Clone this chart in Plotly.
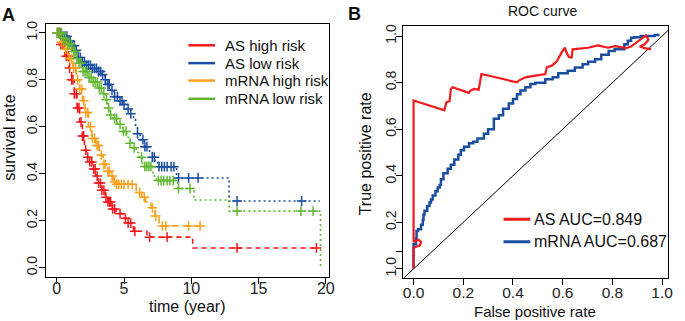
import plotly.graph_objects as go
import numpy as np

# ---------------- Kaplan-Meier data (panel A) ----------------
as_high_t = [0, 0.3, 0.6, 0.9, 1.1, 1.3, 1.5, 1.7, 1.9, 2.05, 2.2, 2.45, 2.7, 2.9, 3.1, 3.35, 3.6, 3.8, 4.1, 4.4, 4.9, 5.3, 5.7, 6.7, 10.1, 19.3]
as_high_s = [1.0, 0.95, 0.90, 0.85, 0.80, 0.74, 0.68, 0.62, 0.56, 0.50, 0.47, 0.45, 0.42, 0.39, 0.36, 0.33, 0.30, 0.28, 0.25, 0.23, 0.21, 0.19, 0.155, 0.13, 0.084, 0.084]
as_high_cens = [0.05, 0.15, 0.3, 0.45, 0.55, 0.7, 0.85, 0.95, 1.1, 1.2, 1.3, 1.45, 1.55, 1.65, 1.8, 1.9, 2.0, 2.15, 2.3, 2.45, 2.6, 2.75, 2.85, 3.0, 3.1, 3.25, 3.35, 3.5, 3.65, 3.8, 3.9, 4.0, 4.15, 4.3, 4.7, 5.1, 5.3, 5.5, 5.8, 6.9, 8.2, 13.4, 19.3]

as_low_t = [0, 0.4, 0.8, 1.1, 1.35, 1.6, 1.85, 2.2, 2.6, 3.0, 3.35, 3.55, 3.75, 4.0, 4.25, 4.6, 4.9, 5.2, 5.5, 5.7, 5.85, 6.0, 6.2, 6.5, 6.9, 7.1, 7.3, 7.5, 8.9, 12.8, 19.55]
as_low_s = [1.0, 0.985, 0.965, 0.945, 0.925, 0.895, 0.875, 0.862, 0.848, 0.835, 0.822, 0.80, 0.78, 0.755, 0.728, 0.71, 0.695, 0.675, 0.655, 0.63, 0.60, 0.57, 0.545, 0.515, 0.49, 0.47, 0.45, 0.43, 0.382, 0.284, 0.284]
as_low_cens = [0.05, 0.25, 0.45, 0.6, 0.75, 0.9, 1.0, 1.15, 1.3, 1.45, 1.6, 1.75, 1.9, 2.05, 2.2, 2.35, 2.5, 2.65, 2.8, 2.95, 3.1, 3.25, 3.4, 3.6, 3.8, 3.9, 4.1, 4.3, 4.5, 4.7, 4.85, 5.0, 5.3, 5.5, 6.0, 6.4, 6.55, 6.7, 7.1, 7.25, 7.6, 7.8, 8.0, 8.2, 8.5, 8.7, 9.05, 9.8, 10.5, 13.4, 18.2]

mrna_high_t = [0, 0.3, 0.6, 0.9, 1.2, 1.45, 1.7, 1.9, 2.1, 2.35, 2.6, 2.9, 3.15, 3.45, 3.7, 3.95, 4.2, 4.35, 5.9, 6.3, 6.6, 7.0, 7.3, 7.6, 10.65]
mrna_high_s = [1.0, 0.96, 0.93, 0.89, 0.85, 0.80, 0.76, 0.71, 0.66, 0.60, 0.55, 0.52, 0.48, 0.44, 0.41, 0.39, 0.365, 0.355, 0.32, 0.30, 0.28, 0.255, 0.22, 0.178, 0.178]
mrna_high_cens = [0.05, 0.2, 0.35, 0.5, 0.65, 0.8, 0.95, 1.1, 1.25, 1.4, 1.55, 1.7, 1.85, 2.0, 2.15, 2.3, 2.5, 2.65, 2.8, 3.0, 3.1, 3.3, 3.5, 3.6, 3.8, 3.9, 4.1, 4.3, 4.45, 4.6, 4.8, 5.0, 5.3, 5.6, 6.15, 6.5, 7.1, 7.35, 7.85, 8.1, 9.8, 10.65]

mrna_low_t = [0, 0.4, 0.8, 1.2, 1.45, 1.6, 1.9, 2.3, 2.7, 3.1, 3.45, 3.65, 3.75, 3.95, 4.15, 4.5, 4.9, 5.2, 5.45, 5.65, 5.9, 6.1, 6.35, 6.5, 7.15, 7.4, 9.0, 10.2, 12.8, 19.6]
mrna_low_s = [1.0, 0.975, 0.95, 0.92, 0.89, 0.87, 0.835, 0.81, 0.79, 0.765, 0.74, 0.715, 0.68, 0.65, 0.635, 0.61, 0.58, 0.555, 0.53, 0.51, 0.49, 0.47, 0.445, 0.431, 0.39, 0.371, 0.337, 0.288, 0.241, 0.0]
mrna_low_cens = [0.05, 0.2, 0.35, 0.5, 0.65, 0.8, 0.95, 1.1, 1.25, 1.35, 1.5, 1.65, 1.8, 1.95, 2.1, 2.25, 2.4, 2.55, 2.7, 2.85, 3.0, 3.15, 3.3, 3.5, 3.7, 3.85, 4.0, 4.3, 4.45, 4.7, 4.95, 5.15, 5.45, 5.75, 6.3, 6.55, 6.7, 6.85, 7.0, 7.55, 7.75, 7.95, 8.2, 8.4, 8.65, 9.05, 9.9, 13.4, 18.15, 19.05]

km_names = ["AS high risk", "AS low risk", "mRNA high risk", "mRNA low risk"]
km_colors = ["#F21A1D", "#1B4EA0", "#F8A11E", "#62B833"]
km_dash = ["5px,4px", "2px,3px", "7px,4px", "2px,3px"]
km_x_ticks = [0, 5, 10, 15, 20]
km_y_ticks = [0.0, 0.2, 0.4, 0.6, 0.8, 1.0]

# ---------------- ROC data (panel B) ----------------
as_fpr = [0, 0, 0.01, 0.025, 0.03, 0.02, 0.005, 0, 0, 0.124, 0.128, 0.132, 0.145, 0.15, 0.157, 0.223, 0.228, 0.243, 0.262, 0.266, 0.27, 0.273, 0.33, 0.416, 0.425, 0.45, 0.49, 0.53, 0.536, 0.556, 0.575, 0.585, 0.596, 0.609, 0.615, 0.625, 0.636, 0.64, 0.66, 0.702, 0.742, 0.782, 0.81, 0.855, 0.875, 0.895, 0.915, 0.935, 0.945, 0.93, 0.91, 0.93, 0.955]
as_tpr = [0, 0.09, 0.095, 0.10, 0.115, 0.125, 0.12, 0.115, 0.723, 0.681, 0.70, 0.716, 0.72, 0.773, 0.78, 0.756, 0.765, 0.773, 0.77, 0.79, 0.81, 0.837, 0.823, 0.801, 0.81, 0.823, 0.83, 0.837, 0.866, 0.873, 0.89, 0.91, 0.93, 0.95, 0.93, 0.91, 0.908, 0.943, 0.946, 0.95, 0.96, 0.95, 0.957, 0.948, 0.955, 0.971, 0.985, 1.003, 0.985, 0.965, 0.955, 0.948, 0.943]

mrna_fpr = [0, 0, 0.01, 0.012, 0.018, 0.03, 0.037, 0.04, 0.044, 0.055, 0.064, 0.07, 0.077, 0.088, 0.097, 0.105, 0.11, 0.12, 0.137, 0.15, 0.164, 0.18, 0.19, 0.203, 0.223, 0.24, 0.257, 0.283, 0.3, 0.323, 0.343, 0.36, 0.383, 0.4, 0.416, 0.43, 0.45, 0.47, 0.49, 0.53, 0.56, 0.582, 0.62, 0.649, 0.68, 0.702, 0.73, 0.755, 0.785, 0.809, 0.848, 0.862, 0.875, 0.888, 0.915, 0.941, 0.97, 0.99]
mrna_tpr = [0, 0.1, 0.106, 0.13, 0.163, 0.17, 0.19, 0.21, 0.234, 0.25, 0.27, 0.285, 0.298, 0.315, 0.333, 0.35, 0.36, 0.385, 0.411, 0.43, 0.447, 0.47, 0.49, 0.51, 0.525, 0.54, 0.546, 0.56, 0.58, 0.60, 0.645, 0.66, 0.688, 0.71, 0.73, 0.75, 0.766, 0.78, 0.794, 0.80, 0.815, 0.823, 0.84, 0.851, 0.865, 0.879, 0.89, 0.90, 0.92, 0.936, 0.943, 0.965, 0.98, 0.993, 0.995, 1.0, 1.0, 1.005]

roc_names = ["AS AUC=0.849", "mRNA AUC=0.687"]
roc_colors = ["#F21A1D", "#1B4EA0"]
roc_x_ticks = [0.0, 0.2, 0.4, 0.6, 0.8, 1.0]
roc_y_tickvals = [0.0, 0.075, 0.2, 0.4, 0.6, 0.8, 1.0]
roc_y_ticktext = ["1.0", "", "0.2", "0.4", "0.6", "0.8", "1.0"]

FONT = "Liberation Sans, Arial, sans-serif"
W, H = 685, 321

def step_val(ts, ss, t):
    idx = int(np.searchsorted(np.array(ts), t, side="right")) - 1
    return ss[max(idx, 0)]

fig = go.Figure()

km_sets = [
    (as_high_t, as_high_s, as_high_cens),
    (as_low_t, as_low_s, as_low_cens),
    (mrna_high_t, mrna_high_s, mrna_high_cens),
    (mrna_low_t, mrna_low_s, mrna_low_cens),
]
for (ts, ss, cs), name, col, dash in zip(km_sets, km_names, km_colors, km_dash):
    fig.add_trace(go.Scatter(x=ts, y=ss, mode="lines", line=dict(color=col, width=1.6, dash=dash, shape="hv"),
                             xaxis="x", yaxis="y", showlegend=False, name=name))
    fig.add_trace(go.Scatter(x=cs, y=[step_val(ts, ss, c) for c in cs], mode="markers",
                             marker=dict(symbol="cross-thin", size=7, line=dict(color=col, width=1.5)),
                             xaxis="x", yaxis="y", showlegend=False, hoverinfo="skip"))

# ROC
fig.add_trace(go.Scatter(x=[-0.2, 1.2], y=[-0.2, 1.2], mode="lines", line=dict(color="black", width=1),
                         xaxis="x2", yaxis="y2", showlegend=False))
fig.add_trace(go.Scatter(x=mrna_fpr, y=mrna_tpr, mode="lines", line=dict(color=roc_colors[1], width=2.5, shape="vh"),
                         xaxis="x2", yaxis="y2", showlegend=False, name=roc_names[1]))
fig.add_trace(go.Scatter(x=as_fpr, y=as_tpr, mode="lines", line=dict(color=roc_colors[0], width=2.2),
                         xaxis="x2", yaxis="y2", showlegend=False, name=roc_names[0]))

axis_common = dict(showline=True, linecolor="black", linewidth=1, mirror=True, ticks="outside",
                   ticklen=6, tickcolor="black", showgrid=False, zeroline=False)
xfontA = dict(family=FONT, size=16, color="#222")
xfontB = dict(family=FONT, size=15.5, color="#222")
yfont = dict(family=FONT, size=14, color="#222")

xA = [46 / W, 332 / W]
yA = [1 - 276.7 / H, 1 - 21 / H]
xB = [406.7 / W, 674 / W]
yB = [1 - 277.3 / H, 1 - 23.3 / H]

fig.update_layout(
    width=W, height=H, margin=dict(l=0, r=0, t=0, b=0),
    paper_bgcolor="white", plot_bgcolor="white",
    font=dict(family=FONT, color="#222"),
    xaxis=dict(domain=xA, range=[-0.834, 20.24], tickvals=km_x_ticks, anchor="y", tickfont=xfontA,
               ticklabelstandoff=-9, **axis_common),
    yaxis=dict(domain=yA, range=[-0.04, 1.038], tickvals=km_y_ticks, tickformat=".1f", tickangle=-90,
               anchor="x", tickfont=yfont, ticklabelstandoff=-4, **axis_common),
    xaxis2=dict(domain=xB, range=[-0.042, 1.024], tickvals=roc_x_ticks, tickformat=".1f", anchor="y2",
                tickfont=xfontB, ticklabelstandoff=-5, **axis_common),
    yaxis2=dict(domain=yB, range=[-0.038, 1.043], tickvals=roc_y_tickvals, ticktext=roc_y_ticktext, tickangle=-90,
                anchor="x2", tickfont=yfont, ticklabelstandoff=-5, **axis_common),
)

ann = []
def txt(x, y, s, size, bold=False, angle=0, xanchor="center"):
    ann.append(dict(x=x / W, y=1 - y / H, xref="paper", yref="paper", text=("<b>%s</b>" % s) if bold else s,
                    showarrow=False, textangle=angle, xanchor=xanchor, yanchor="middle",
                    font=dict(family=FONT, size=size, color="#111")))

txt(9, 12, "A", 18, bold=True)
txt(358, 11, "B", 18, bold=True)
txt(10, 136, "survival rate", 16, angle=-90)
txt(189, 306, "time (year)", 16)
txt(547, 8, "ROC curve", 14)
txt(369, 152, "True positive rate", 16, angle=-90)
txt(540, 311, "False positive rate", 15)

shapes = []
legA_y = [42.7, 60.7, 78.3, 96.7]
for yy, name, col in zip(legA_y, km_names, km_colors):
    shapes.append(dict(type="line", xref="paper", yref="paper", x0=190 / W, x1=217 / W, y0=1 - yy / H, y1=1 - yy / H,
                       line=dict(color=col, width=2.5)))
    txt(225, yy, name, 15, xanchor="left")
legB_y = [218.3, 241]
for yy, name, col in zip(legB_y, roc_names, roc_colors):
    shapes.append(dict(type="line", xref="paper", yref="paper", x0=508 / W, x1=535 / W, y0=1 - yy / H, y1=1 - yy / H,
                       line=dict(color=col, width=3)))
    txt(537, yy, name, 16, xanchor="left")

fig.update_layout(annotations=ann, shapes=shapes)
fig.write_html("out.html", config={"displayModeBar": False})

# remove default page margin so the figure sits at the window's top-left corner
with open("out.html", "r", encoding="utf-8") as f:
    html = f.read()
html = html.replace("<head>", "<head><style>html,body{margin:0;padding:0;overflow:hidden;}</style>", 1)
with open("out.html", "w", encoding="utf-8") as f:
    f.write(html)
